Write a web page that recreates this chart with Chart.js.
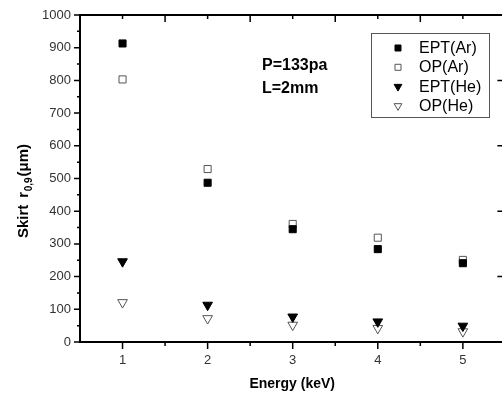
<!DOCTYPE html>
<html><head><meta charset="utf-8">
<script src="https://cdn.jsdelivr.net/npm/chart.js@4.4.1/dist/chart.umd.min.js"></script>
<style>html,body{margin:0;padding:0;overflow:hidden;background:#fff;width:502px;height:395px}canvas{display:block}</style>
</head><body><canvas id="c" width="512" height="395" style="width:512px;height:395px"></canvas>
<script>
// ---- data ----
const energies = [1, 2, 3, 4, 5];
const eptAr = [913, 487, 345, 284, 241];
const opAr  = [803, 529, 361, 319, 251];
const eptHe = [246, 113, 77, 62, 49];
const opHe  = [121, 72, 52, 42, 32];
const seriesLabels = ['EPT(Ar)', 'OP(Ar)', 'EPT(He)', 'OP(He)'];
const yTickValues = [0, 100, 200, 300, 400, 500, 600, 700, 800, 900, 1000];
const xTitle = 'Energy (keV)';
const notes = ['P=133pa', 'L=2mm'];

const pts = arr => arr.map((v, i) => ({x: energies[i], y: v}));
const FONT = 'Arial, "Liberation Sans", sans-serif';

const styles = [
  {pointStyle: 'rect', pointRadius: 5, pointRotation: 0, pointBackgroundColor: '#000', pointBorderColor: '#000', pointBorderWidth: 1},
  {pointStyle: 'rect', pointRadius: 5, pointRotation: 0, pointBackgroundColor: '#fff', pointBorderColor: '#555', pointBorderWidth: 1},
  {pointStyle: 'triangle', pointRadius: 5.6, pointRotation: 180, pointBackgroundColor: '#000', pointBorderColor: '#000', pointBorderWidth: 1},
  {pointStyle: 'triangle', pointRadius: 5.6, pointRotation: 180, pointBackgroundColor: '#fff', pointBorderColor: '#555', pointBorderWidth: 1}
];
const series = [eptAr, opAr, eptHe, opHe];

const datasets = series.map((s, i) => Object.assign({
  label: seriesLabels[i], data: pts(s), showLine: false, pointHoverRadius: 5
}, styles[i]));

function drawMarker(ctx, st, x, y, scale) {
  ctx.save();
  ctx.fillStyle = st.pointBackgroundColor;
  ctx.strokeStyle = st.pointBorderColor;
  ctx.lineWidth = 1;
  const r = st.pointRadius * scale;
  ctx.beginPath();
  if (st.pointStyle === 'rect') {
    const h = r * Math.SQRT1_2;
    ctx.rect(x - h, y - h, 2 * h, 2 * h);
  } else {
    ctx.moveTo(x, y + r);
    ctx.lineTo(x - r * Math.sqrt(3) / 2, y - r / 2);
    ctx.lineTo(x + r * Math.sqrt(3) / 2, y - r / 2);
    ctx.closePath();
  }
  ctx.fill();
  ctx.stroke();
  ctx.restore();
}

const decor = {
  id: 'decor',
  afterDraw(chart) {
    const ctx = chart.ctx;
    const a = chart.chartArea;
    const xs = chart.scales.x, ys = chart.scales.y;
    ctx.save();
    ctx.strokeStyle = '#000';
    // top & right frame lines
    ctx.lineWidth = 2;
    ctx.beginPath();
    ctx.moveTo(a.left, a.top); ctx.lineTo(a.right, a.top);
    ctx.moveTo(a.right, a.top); ctx.lineTo(a.right, a.bottom);
    ctx.stroke();
    ctx.lineWidth = 1.5;
    ctx.beginPath();
    // x ticks
    energies.forEach(v => {
      const px = xs.getPixelForValue(v);
      ctx.moveTo(px, a.bottom); ctx.lineTo(px, a.bottom + 7);
      ctx.moveTo(px, a.top); ctx.lineTo(px, a.top + 4);
    });
    for (let i = 0; i < energies.length - 1; i++) {
      const px = xs.getPixelForValue((energies[i] + energies[i + 1]) / 2);
      ctx.moveTo(px, a.bottom); ctx.lineTo(px, a.bottom + 4);
      ctx.moveTo(px, a.top); ctx.lineTo(px, a.top + 7);
    }
    // y ticks
    yTickValues.forEach((v, i) => {
      const py = ys.getPixelForValue(v);
      ctx.moveTo(a.left - 6, py); ctx.lineTo(a.left, py);
      if (v % 200 === 0 && v > 0 && v < 1000) { ctx.moveTo(a.right - 8, py); ctx.lineTo(a.right, py); }
      if (i < yTickValues.length - 1) {
        const pm = ys.getPixelForValue((v + yTickValues[i + 1]) / 2);
        ctx.moveTo(a.left - 3, pm); ctx.lineTo(a.left, pm);
      }
    });
    ctx.stroke();

    // x title
    ctx.fillStyle = '#000';
    ctx.font = 'bold 14px ' + FONT;
    ctx.textAlign = 'center';
    ctx.textBaseline = 'alphabetic';
    ctx.fillText(xTitle, (a.left + a.right) / 2 - 0.5, 388);

    // y title with subscript
    ctx.save();
    ctx.translate(28, 238);
    ctx.rotate(-Math.PI / 2);
    ctx.textAlign = 'left';
    let cx = 0;
    ctx.font = 'bold 15px ' + FONT;
    ctx.fillText('Skirt', cx, 0); cx += ctx.measureText('Skirt').width + 7;
    ctx.fillText('r', cx, 0); cx += ctx.measureText('r').width + 0.5;
    ctx.font = 'bold 10px ' + FONT;
    ctx.fillText('0,9', cx, 4); cx += ctx.measureText('0,9').width + 1;
    ctx.font = 'bold 15px ' + FONT;
    ctx.fillText('(\u03bcm)', cx, 0);
    ctx.restore();

    // annotation
    ctx.font = 'bold 16px ' + FONT;
    ctx.textAlign = 'left';
    ctx.fillText(notes[0], 262, 70);
    ctx.fillText(notes[1], 262, 93);

    // legend box
    ctx.lineWidth = 1;
    ctx.strokeStyle = '#555';
    ctx.fillStyle = '#fff';
    ctx.fillRect(371.5, 33.5, 118, 84);
    ctx.strokeRect(371.5, 33.5, 118, 84);
    ctx.font = '16px ' + FONT;
    ctx.textBaseline = 'middle';
    chart.data.datasets.forEach((ds, i) => {
      const y = 48 + i * 19.3;
      drawMarker(ctx, styles[i], 398, y, ds.pointStyle === 'rect' ? 0.85 : 0.8);
      ctx.fillStyle = '#000';
      ctx.fillText(ds.label, 419, y + 0.5);
    });
    ctx.restore();
  }
};

new Chart(document.getElementById('c'), {
  type: 'scatter',
  data: {datasets},
  options: {
    responsive: false,
    animation: false,
    layout: {padding: {top: 15, right: 6, left: 0, bottom: 0}},
    plugins: {legend: {display: false}, title: {display: false}, tooltip: {enabled: false}},
    scales: {
      x: {
        type: 'linear', position: 'bottom', min: 0.5, max: 5.5,
        afterBuildTicks: s => { s.ticks = energies.map(v => ({value: v})); },
        afterFit: s => { s.height = 53; },
        grid: {display: false, drawTicks: true, tickLength: 7},
        border: {display: true, color: '#000', width: 2},
        ticks: {color: '#333', font: {family: FONT, size: 13}, padding: 4, maxRotation: 0,
                callback: v => String(v)}
      },
      y: {
        type: 'linear', position: 'left', min: 0, max: 1000,
        afterBuildTicks: s => { s.ticks = yTickValues.map(v => ({value: v})); },
        afterFit: s => { s.width = 80; },
        grid: {display: false, drawTicks: true, tickLength: 6},
        border: {display: true, color: '#000', width: 2},
        ticks: {color: '#333', font: {family: FONT, size: 13}, padding: 3,
                callback: v => String(v)}
      }
    }
  },
  plugins: [decor]
});
</script>
</body></html>
